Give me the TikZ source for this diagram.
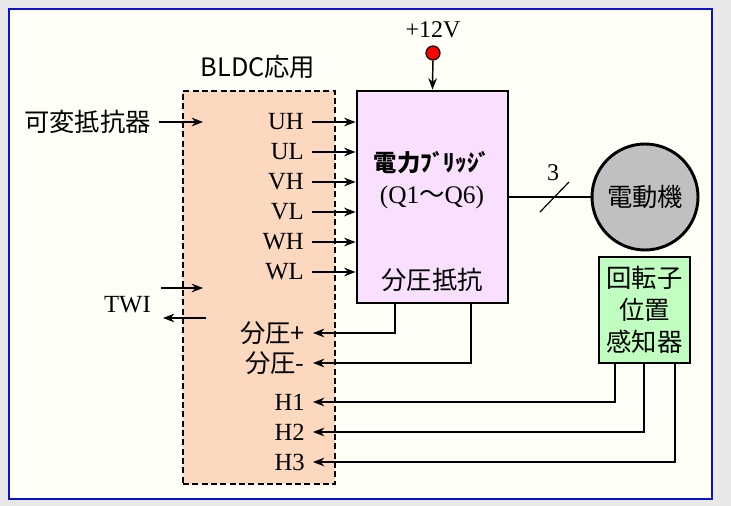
\documentclass[tikz,border=0pt]{standalone}
\usepackage{fontspec}
\setmainfont{Liberation Serif}
\newfontfamily\jp{Noto Sans CJK JP}
\usetikzlibrary{arrows.meta}
\definecolor{pagegray}{HTML}{E8E8E8}
\definecolor{panelfill}{HTML}{FFFFF7}
\definecolor{panelline}{HTML}{1010D0}
\definecolor{appfill}{HTML}{FCD8BF}
\definecolor{bridgefill}{HTML}{F9E0FE}
\definecolor{sensorfill}{HTML}{C0FFC0}
\definecolor{motorfill}{HTML}{C0C0C0}

\begin{document}
\begin{tikzpicture}[x=0.75pt, y=-0.75pt,
  sig/.style={line width=1.1pt, -{Stealth[length=8.5pt,width=6.5pt]}},
  wire/.style={line width=1.1pt},
  lbl/.style={anchor=east, inner xsep=6pt, inner ysep=0pt, font=\fontsize{18.5}{20}\selectfont},
  jplbl/.style={lbl, font=\fontsize{19}{21}\selectfont\jp}]
\fill[pagegray] (0,0) rectangle (731,506);
\draw[panelline, fill=panelfill, line width=1.2pt] (9,9) rectangle (712,499);
\node[draw, dash pattern=on 4.5pt off 2.5pt, line width=0.9pt, fill=appfill, minimum width=114pt, minimum height=294.75pt, inner sep=0pt] (app) at (259,287.5) {};
\node[font=\fontsize{19}{21}\selectfont\jp] (apptitle) at (258,67) {BLDC応用};
\node[draw, line width=2.2pt, fill=bridgefill, minimum width=113.25pt, minimum height=159pt, inner sep=0pt] (bridge) at (432.5,197) {};
\node[font=\fontsize{17.5}{19}\selectfont\jp\bfseries] (bridgename) at (432,163) {電力ﾌﾞﾘｯｼﾞ};
\node[font=\fontsize{19}{21}\selectfont] (bridgeq) at (432,197) {(Q1{\jp ～}Q6)};
\node[font=\fontsize{19}{21}\selectfont\jp] (bridgediv) at (432,280) {分圧抵抗};
\node[draw, circle, line width=2.2pt, fill=motorfill, minimum size=79.5pt, inner sep=0pt, font=\fontsize{19}{21}\selectfont\jp] (motor) at (645,197) {電動機};
\node[draw, line width=2.2pt, fill=sensorfill, minimum width=68.25pt, minimum height=79.5pt, inner sep=0pt, align=center, font=\fontsize{19}{24}\selectfont\jp] (sensor) at (644.5,310) {回転子\\位置\\感知器};
\node[font=\fontsize{18}{20}\selectfont] (vtext) at (433,30) {+12V};
\node[draw, circle, line width=0.9pt, fill=red, minimum size=10.5pt, inner sep=0pt] (vcc) at (433,53) {};
\draw[sig] (vcc) -- (bridge.north);
\node[jplbl] (var) at (159,122) {可変抵抗器};
\coordinate (varin) at (203,122);
\draw[sig] (var.east) -- (varin);
\node[lbl] (twi) at (159,305) {TWI};
\coordinate (twia) at (161,288);
\coordinate (twib) at (203,288);
\coordinate (twic) at (206,318);
\coordinate (twid) at (163,318);
\draw[sig] (twia) -- (twib);
\draw[sig] (twic) -- (twid);
\node[lbl] (uh) at (312,122) {UH};
\node[lbl] (ul) at (312,152) {UL};
\node[lbl] (vh) at (312,182) {VH};
\node[lbl] (vl) at (312,212) {VL};
\node[lbl] (wh) at (312,242) {WH};
\node[lbl] (wl) at (312,272) {WL};
\foreach \p in {uh,ul,vh,vl,wh,wl}
  \draw[sig] (\p.east) -- (\p.east -| bridge.west);
\node[jplbl] (divp) at (313,333) {分圧+};
\node[jplbl] (divm) at (313,363) {分圧-};
\node[lbl] (h1) at (313,402) {H1};
\node[lbl] (h2) at (313,432) {H2};
\node[lbl] (h3) at (313,462) {H3};
\draw[sig] (bridge.south) ++(-37.5,0) |- (divp.east);
\draw[sig] (bridge.south) ++(38.5,0) |- (divm.east);
\draw[sig] (sensor.south) ++(-29.5,0) |- (h1.east);
\draw[sig] (sensor.south) ++(-0.5,0) |- (h2.east);
\draw[sig] (sensor.south) ++(30.5,0) |- (h3.east);
\draw[wire] (bridge.east) -- (motor.west);
\draw[line width=0.9pt] (540,212) -- (569,182);
\node[font=\fontsize{18}{20}\selectfont] (wires) at (553,173) {3};
\end{tikzpicture}
\end{document}
